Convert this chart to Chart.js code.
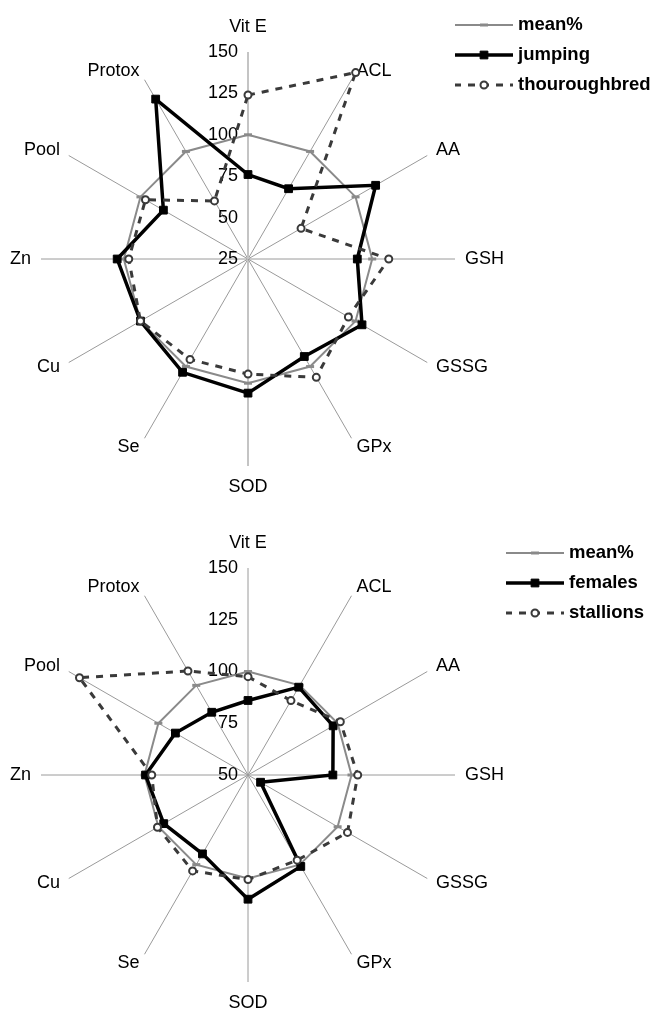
<!DOCTYPE html>
<html>
<head>
<meta charset="utf-8">
<title>Antioxidant profile radar charts</title>
<script src="https://cdn.jsdelivr.net/npm/chart.js@4.4.1/dist/chart.umd.min.js"></script>
<style>
  body { margin: 0; background: #fff; }
  canvas { display: block; }
</style>
</head>
<body>
<canvas id="radar-breed" width="656" height="500"></canvas>
<canvas id="radar-sex" width="656" height="512"></canvas>
<script>
var categories = ["Vit E", "ACL", "AA", "GSH", "GSSG", "GPx", "SOD", "Se", "Cu", "Zn", "Pool", "Protox"];

// top chart: breeds
var breedTicks = [25, 50, 75, 100, 125, 150];
var meanBreed = [100, 100, 100, 100, 100, 100, 100, 100, 100, 100, 100, 100];
var jumping = [76, 74, 114, 91, 104.5, 93, 106, 104, 100, 104, 84, 136.5];
var thouroughbred = [124, 155, 62, 110, 95, 107.5, 94.5, 95, 100, 97, 96.5, 65.5];

// bottom chart: sex
var sexTicks = [50, 75, 100, 125, 150];
var meanSex = [100, 100, 100, 100, 100, 100, 100, 100, 100, 100, 100, 100];
var females = [86, 99, 97.5, 91, 57, 101, 110, 94, 97, 99.5, 90.5, 85];
var stallions = [97.5, 91.5, 101.5, 103, 105.5, 97.5, 100.5, 103.5, 100.5, 96.5, 144, 108];

var fontFamily = "'Liberation Sans', Arial, sans-serif";
Chart.defaults.font.family = fontFamily;

// tick numbers left of the vertical axis and category names round the outside
var radarText = {
  id: "radarText",
  beforeDatasetsDraw: function (chart) {
    var scale = chart.scales.r;
    var ctx = chart.ctx;
    ctx.save();
    ctx.fillStyle = "#000";
    ctx.font = "18px " + fontFamily;
    ctx.textAlign = "right";
    ctx.textBaseline = "middle";
    scale.ticks.forEach(function (t) {
      var d = scale.getDistanceFromCenterForValue(t.value);
      ctx.fillText(t.label, scale.xCenter - 10, scale.yCenter - d);
    });
    chart.data.labels.forEach(function (name, i) {
      var angle = Math.round(scale.getIndexAngle(i) * 180 / Math.PI) % 360;
      var p = scale.getPointPosition(i, scale.drawingArea + 10);
      var y = p.y;
      if (angle === 0) {
        ctx.textAlign = "center";
        y -= 15;
      } else if (angle === 180) {
        ctx.textAlign = "center";
        y += 11;
      } else if (angle < 180) {
        ctx.textAlign = "left";
      } else {
        ctx.textAlign = "right";
      }
      ctx.fillText(name, p.x, y);
    });
    ctx.restore();
  }
};

// legend with a line sample and the marker in its middle
var sampleLegend = {
  id: "sampleLegend",
  afterDraw: function (chart, args, opts) {
    var ctx = chart.ctx;
    chart.data.datasets.forEach(function (ds, i) {
      var x = opts.x;
      var y = opts.y + i * 30;
      ctx.save();
      ctx.strokeStyle = ds.borderColor;
      ctx.lineWidth = ds.borderWidth;
      ctx.setLineDash(ds.borderDash || []);
      ctx.lineDashOffset = ds.borderDash ? 1 : 0;
      ctx.beginPath();
      ctx.moveTo(x, y);
      ctx.lineTo(x + 58, y);
      ctx.stroke();
      ctx.setLineDash([]);
      ctx.fillStyle = ds.pointBackgroundColor;
      ctx.strokeStyle = ds.pointBorderColor;
      ctx.lineWidth = ds.pointBorderWidth;
      Chart.helpers.drawPoint(ctx, {
        pointStyle: ds.pointStyle,
        radius: ds.pointRadius,
        borderWidth: ds.pointBorderWidth,
        rotation: 0
      }, x + 29, y);
      ctx.fillStyle = "#000";
      ctx.font = "bold 18.5px " + fontFamily;
      ctx.textAlign = "left";
      ctx.textBaseline = "middle";
      ctx.fillText(ds.label, x + 63, y);
      ctx.restore();
    });
  }
};

function meanSet(data) {
  return {
    label: "mean%",
    data: data,
    borderColor: "#8a8a8a",
    borderWidth: 2,
    pointStyle: "line",
    pointRadius: 4,
    pointBorderWidth: 3,
    pointBorderColor: "#8a8a8a",
    pointBackgroundColor: "#8a8a8a",
    fill: false,
    order: 3
  };
}

function solidSet(label, data) {
  return {
    label: label,
    data: data,
    borderColor: "#000",
    borderWidth: 3.5,
    pointStyle: "rect",
    pointRadius: 5.5,
    pointBorderWidth: 1,
    pointBorderColor: "#000",
    pointBackgroundColor: "#000",
    fill: false,
    order: 2
  };
}

function dashedSet(label, data) {
  return {
    label: label,
    data: data,
    borderColor: "#3a3a3a",
    borderWidth: 3,
    borderDash: [7, 7],
    pointStyle: "circle",
    pointRadius: 3.5,
    pointBorderWidth: 2,
    pointBorderColor: "#3a3a3a",
    pointBackgroundColor: "#fff",
    fill: false,
    clip: false,
    order: 1
  };
}

function makeRadar(id, datasets, ticks, padding, legendAt, axisColor, axisWidth) {
  return new Chart(document.getElementById(id), {
    type: "radar",
    data: {
      labels: categories,
      datasets: datasets
    },
    options: {
      responsive: false,
      animation: false,
      layout: { padding: padding },
      elements: { line: { tension: 0 } },
      plugins: {
        legend: { display: false },
        tooltip: { enabled: false },
        sampleLegend: legendAt
      },
      scales: {
        r: {
          min: ticks[0],
          max: ticks[ticks.length - 1],
          ticks: { display: false, stepSize: ticks[1] - ticks[0] },
          grid: { display: false },
          pointLabels: { display: false },
          angleLines: {
            color: function (c) {
              return c.index === 0 || c.index === 6 ? axisColor : "#9a9a9a";
            },
            lineWidth: function (c) {
              return c.index === 0 || c.index === 6 ? axisWidth : 1;
            }
          }
        }
      }
    },
    plugins: [radarText, sampleLegend]
  });
}

makeRadar(
  "radar-breed",
  [meanSet(meanBreed), solidSet("jumping", jumping), dashedSet("thouroughbred", thouroughbred)],
  breedTicks,
  { left: 41, right: 201, top: 52, bottom: 34 },
  { x: 455, y: 25 },
  "#c4c4c4",
  2
);

makeRadar(
  "radar-sex",
  [meanSet(meanSex), solidSet("females", females), dashedSet("stallions", stallions)],
  sexTicks,
  { left: 41, right: 201, top: 68, bottom: 30 },
  { x: 506, y: 53 },
  "#9a9a9a",
  1
);
</script>
</body>
</html>
